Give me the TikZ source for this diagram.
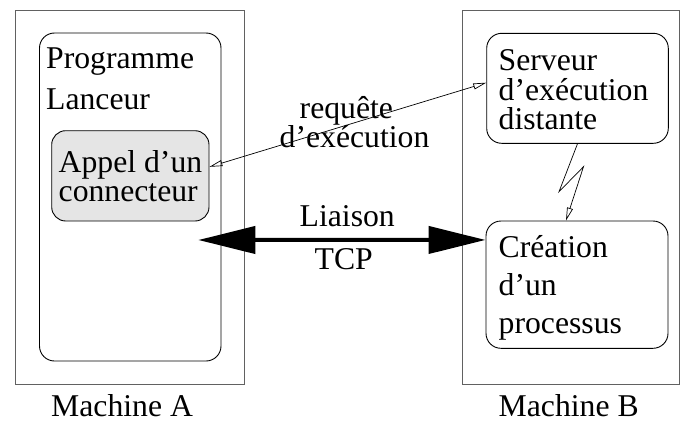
\documentclass[tikz,border=0pt]{standalone}
\usepackage{fontspec}
\setmainfont{Liberation Serif}
\usetikzlibrary{arrows.meta}
\begin{document}
\begin{tikzpicture}[x=1pt,y=-1pt,
  machinebox/.style={draw=black!62,line width=1pt,inner sep=0pt},
  procbox/.style={draw=black,line width=0.9pt,rounded corners=15pt,inner sep=0pt},
  callbox/.style={procbox,fill=black!10,rounded corners=14pt},
  lbl/.style={anchor=base west,inner sep=0pt,font=\fontsize{31.7}{38}\selectfont},
  thinarrow/.style={line width=0.7pt,{Triangle[open,length=13pt,width=6pt]}-{Triangle[open,length=13pt,width=6pt]}},
  tcparrow/.style={line width=4pt,{Triangle[length=57pt,width=27pt]}-{Triangle[length=57pt,width=27pt]}},
  spark/.style={line width=0.7pt,-{Triangle[open,length=13pt,width=6pt]}}]
\useasboundingbox (0,0) rectangle (680,423);

% Machine A
\node[machinebox,minimum width=229.5pt,minimum height=374.5pt] (machA) at (129.75,197.25) {};
\node[procbox,minimum width=181.5pt,minimum height=328pt] (lanceur) at (130.25,197) {};
\node[callbox,minimum width=157.3pt,minimum height=90.3pt] (appel) at (130.35,175.85) {};
\node[lbl] (tprog) at (46,68) {Programme};
\node[lbl] (tlanc) at (46,109) {Lanceur};
\node[lbl] (tapp1) at (58.5,172.7) {Appel d’un};
\node[lbl] (tapp2) at (58.5,201.7) {connecteur};
\node[lbl] (tmachA) at (51,416) {Machine A};

% Machine B
\node[machinebox,minimum width=216.6pt,minimum height=374.5pt] (machB) at (571,197.25) {};
\node[procbox,minimum width=181.6pt,minimum height=110pt] (serveur) at (577.5,88.3) {};
\node[procbox,minimum width=182pt,minimum height=127.3pt] (creation) at (577,284.65) {};
\node[lbl] (tserv1) at (498.5,70.7) {Serveur};
\node[lbl] (tserv2) at (498.5,100) {d’exécution};
\node[lbl] (tserv3) at (498.5,129) {distante};
\node[lbl] (tcrea1) at (498.5,257.3) {Création};
\node[lbl] (tcrea2) at (498.5,295) {d’un};
\node[lbl] (tcrea3) at (498.5,333.3) {processus};
\node[lbl] (tmachB) at (498.5,416) {Machine B};

% execution request
\node[lbl] (treq1) at (299.5,118.3) {requête};
\node[lbl] (treq2) at (279.5,147.3) {d’exécution};
\draw[thinarrow] ([yshift=9pt]appel.east) -- ([yshift=5.6pt]serveur.west);

% TCP link
\coordinate (tcpA) at (198.3,240);
\node[lbl] (tlia1) at (299.5,226.7) {Liaison};
\node[lbl] (tlia2) at (314.5,269.3) {TCP};
\draw[tcparrow] (tcpA) -- ([yshift=44.7pt]creation.west);

% process spawn
\coordinate (k1) at (559,191.7);
\coordinate (k2) at (583.5,166.7);
\draw[spark] (serveur.south) -- (k1) -- (k2) -- ([xshift=-11pt]creation.north);
\end{tikzpicture}
\end{document}
